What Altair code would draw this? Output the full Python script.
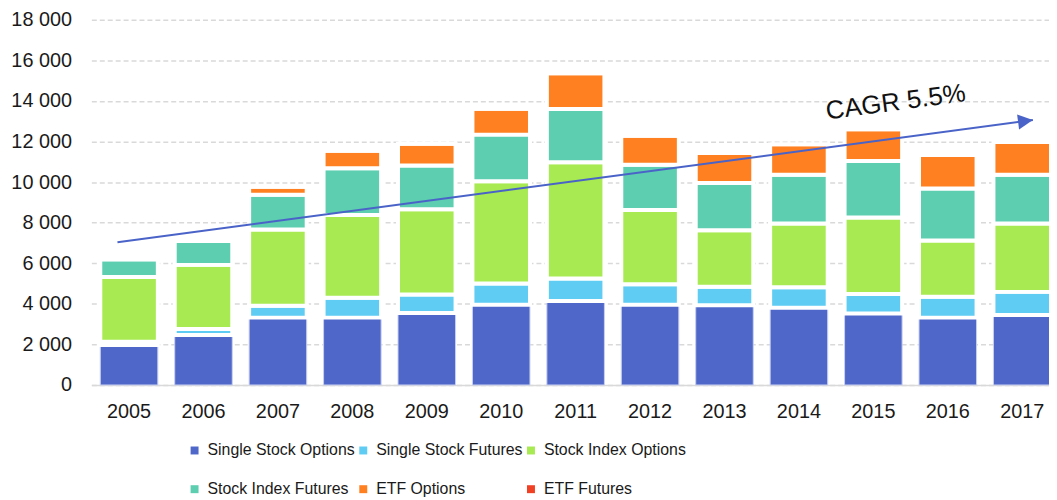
import altair as alt
import pandas as pd

years = [2005, 2006, 2007, 2008, 2009, 2010, 2011, 2012, 2013, 2014, 2015, 2016, 2017]
series = ["Single Stock Options", "Single Stock Futures", "Stock Index Options",
          "Stock Index Futures", "ETF Options", "ETF Futures"]
single_stock_options = [1970, 2460, 3320, 3320, 3550, 3960, 4140, 3960, 3930, 3810, 3520, 3320, 3450]
single_stock_futures = [160, 295, 590, 980, 910, 1040, 1110, 1010, 910, 1010, 970, 1030, 1140]
stock_index_options = [3190, 3165, 3750, 4080, 4200, 5040, 5730, 3660, 2790, 3140, 3760, 2770, 3370]
stock_index_futures = [880, 1180, 1720, 2300, 2160, 2300, 2620, 2220, 2330, 2400, 2790, 2570, 2400]
etf_options = [0, 0, 390, 870, 1070, 1270, 1770, 1430, 1470, 1500, 1560, 1640, 1610]
etf_futures = [0, 0, 0, 0, 0, 0, 0, 0, 0, 0, 0, 0, 0]
colors = ["#4E67C8", "#5ECCF3", "#A7EA52", "#5DCEAF", "#FF8021", "#F14124"]

# CAGR annotation (data coordinates)
arrow_years = [2004.844, 2017.143]
arrow_values = [7035, 13060]
label_year = [2015.30]
label_value = [13930]
label_text = ["CAGR 5.5%"]

all_vals = [single_stock_options, single_stock_futures, stock_index_options,
            stock_index_futures, etf_options, etf_futures]
rows = []
for si, (name, vals) in enumerate(zip(series, all_vals)):
    for y, v in zip(years, vals):
        rows.append({"year": str(y), "series": name, "value": v, "idx": si})
df = pd.DataFrame(rows)

FONT = "Liberation Sans"
W, H = 965, 368
RANGE_END = 976
P_IN, P_OUT = 0.227, 0.12
step = RANGE_END / (len(years) - P_IN + 2 * P_OUT)
first_center = P_OUT * step + (1 - P_IN) * step / 2
q_range = [first_center - 0.5 * step, first_center + (len(years) - 0.5) * step]
q_domain = [years[0] - 0.5, years[-1] + 0.5]

is_blue = "datum.series == 'Single Stock Options'"

bars = alt.Chart(df).mark_bar().encode(
    x=alt.X("year:O", sort=[str(y) for y in years],
            scale=alt.Scale(range=[0, RANGE_END], paddingInner=P_IN, paddingOuter=P_OUT),
            axis=alt.Axis(title=None, labelAngle=0, ticks=False, labelPadding=17,
                          labelFontSize=20, labelFont=FONT, labelColor="#1a1a1a",
                          domainColor="#d9d9d9", domainWidth=1.5)),
    y=alt.Y("value:Q", stack="zero",
            scale=alt.Scale(domain=[0, 18000], nice=False),
            axis=alt.Axis(title=None, values=list(range(0, 18001, 2000)),
                          labelExpr="replace(format(datum.value, ','), ',', ' ')",
                          grid=True, gridDash=[5, 3], gridColor="#d9d9d9", gridWidth=1.5,
                          domain=False, ticks=False, labelPadding=20,
                          labelFontSize=20, labelFont=FONT, labelColor="#1a1a1a")),
    color=alt.Color("series:N", scale=alt.Scale(domain=series, range=colors),
                    legend=alt.Legend(title=None, orient="none", legendX=96, legendY=426,
                                      direction="horizontal",
                                      columns=3, symbolType="square", symbolSize=64,
                                      symbolStrokeWidth=0, labelFontSize=16, labelFont=FONT,
                                      labelColor="#1a1a1a", labelOffset=5,
                                      rowPadding=23, columnPadding=0, padding=0)),
    order=alt.Order("idx:Q"),
    stroke=alt.condition(is_blue, alt.value("#c9d0f0"), alt.value("white")),
    strokeWidth=alt.condition(is_blue, alt.value(1), alt.value(4)),
)

arrow_df = pd.DataFrame({"x": arrow_years, "y": arrow_values})
xq = alt.X("x:Q", scale=alt.Scale(domain=q_domain, range=q_range), axis=None)
yq = alt.Y("y:Q", scale=alt.Scale(domain=[0, 18000], nice=False), axis=None)

arrow_line = alt.Chart(arrow_df).mark_line(color="#4A63C8", strokeWidth=2).encode(x=xq, y=yq)
arrow_head = alt.Chart(arrow_df.iloc[[1]]).mark_point(
    shape="M 0 0 L -2 -1 L -2 1 Z", filled=True, size=225, angle=352.36,
    color="#4A63C8", opacity=1).encode(x=xq, y=yq)

label_df = pd.DataFrame({"x": label_year, "y": label_value, "t": label_text})
cagr = alt.Chart(label_df).mark_text(
    angle=352.4, fontSize=26, font=FONT, color="#111111", align="center", baseline="middle"
).encode(x=xq, y=yq, text="t:N")

chart = alt.layer(bars, arrow_line, arrow_head, cagr).resolve_scale(
    x="independent").resolve_axis(y="independent").properties(
    width=W, height=H,
    padding={"left": 84, "top": 10, "right": 0, "bottom": 113},
    autosize=alt.AutoSizeParams(type="none"),
).configure_view(stroke=None)

chart.save("out.html", embed_options={"renderer": "svg", "actions": False})
